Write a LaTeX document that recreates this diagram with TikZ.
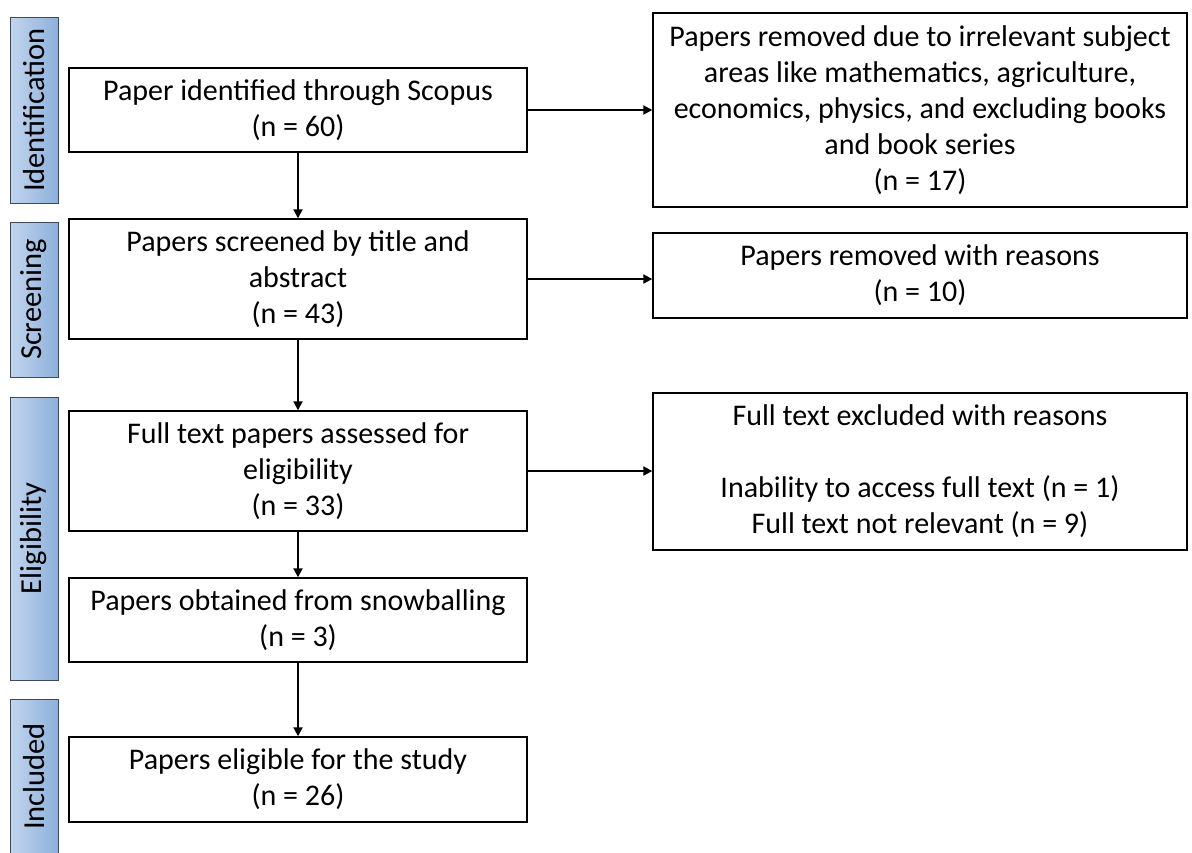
\documentclass[tikz,border=0pt]{standalone}
\usepackage{fontspec}
\setmainfont{Carlito}
\usetikzlibrary{arrows.meta}
\definecolor{barL}{HTML}{C3D5ED}
\definecolor{barR}{HTML}{8DB0DC}
\definecolor{barEdge}{HTML}{3C4A5C}

\tikzset{
  box/.style={draw, line width=1.4pt, align=center, inner sep=0pt,
    font=\fontsize{30}{36}\selectfont},
  phase/.style={draw=barEdge, line width=1pt, rotate=90, left color=barL,
    right color=barR, minimum height=48pt, inner sep=0pt,
    font=\fontsize{30.5}{34}\selectfont},
  flow/.style={line width=2pt, -{Triangle[length=9pt,width=9pt]}}
}

\begin{document}
\begin{tikzpicture}[x=1pt, y=-1pt]
  \useasboundingbox (0,0) rectangle (1192,852);

  % ---- phase bars ----
  \foreach \nm/\y/\len/\txt in {Id/110/186/Identification, Sc/299.5/155/Screening,
      El/538.5/283/Eligibility, In/776.5/155/Included} {
    \node[phase, minimum width=\len pt] (ph\nm) at (34,\y) {\txt};
  }

  % ---- main column ----
  \node[box, minimum width=458pt, minimum height=84pt] (ident) at (298,110)
    {Paper identified through Scopus\\(n = 60)};
  \node[box, minimum width=458pt, minimum height=120pt] (screen) at (298,279)
    {Papers screened by title and\\abstract\\(n = 43)};
  \node[box, minimum width=458pt, minimum height=120pt] (elig) at (298,471)
    {Full text papers assessed for\\eligibility\\(n = 33)};
  \node[box, minimum width=458pt, minimum height=84pt] (snow) at (298,620)
    {Papers obtained from snowballing\\(n = 3)};
  \node[box, minimum width=458pt, minimum height=85pt] (incl) at (298,779.5)
    {Papers eligible for the study\\(n = 26)};

  % ---- exclusions ----
  \node[box, minimum width=534pt, minimum height=194pt] (rmSubj) at (920,110)
    {Papers removed due to irrelevant subject\\areas like mathematics, agriculture,\\economics, physics, and excluding books\\and book series\\(n = 17)};
  \node[box, minimum width=534pt, minimum height=85pt] (rmReason) at (920,275.5)
    {Papers removed with reasons\\(n = 10)};
  \node[box, minimum width=534pt, minimum height=157pt] (rmFull) at (920,471.5)
    {Full text excluded with reasons\\[36pt]Inability to access full text (n = 1)\\Full text not relevant (n = 9)};

  % ---- arrows ----
  \foreach \a/\b in {ident/screen, screen/elig, elig/snow, snow/incl}
    \draw[flow] (\a) -- (\b);
  \foreach \a/\b in {ident/rmSubj, screen/rmReason, elig/rmFull}
    \draw[flow] (\a.east) -- (\a.east -| \b.west);
\end{tikzpicture}
\end{document}
